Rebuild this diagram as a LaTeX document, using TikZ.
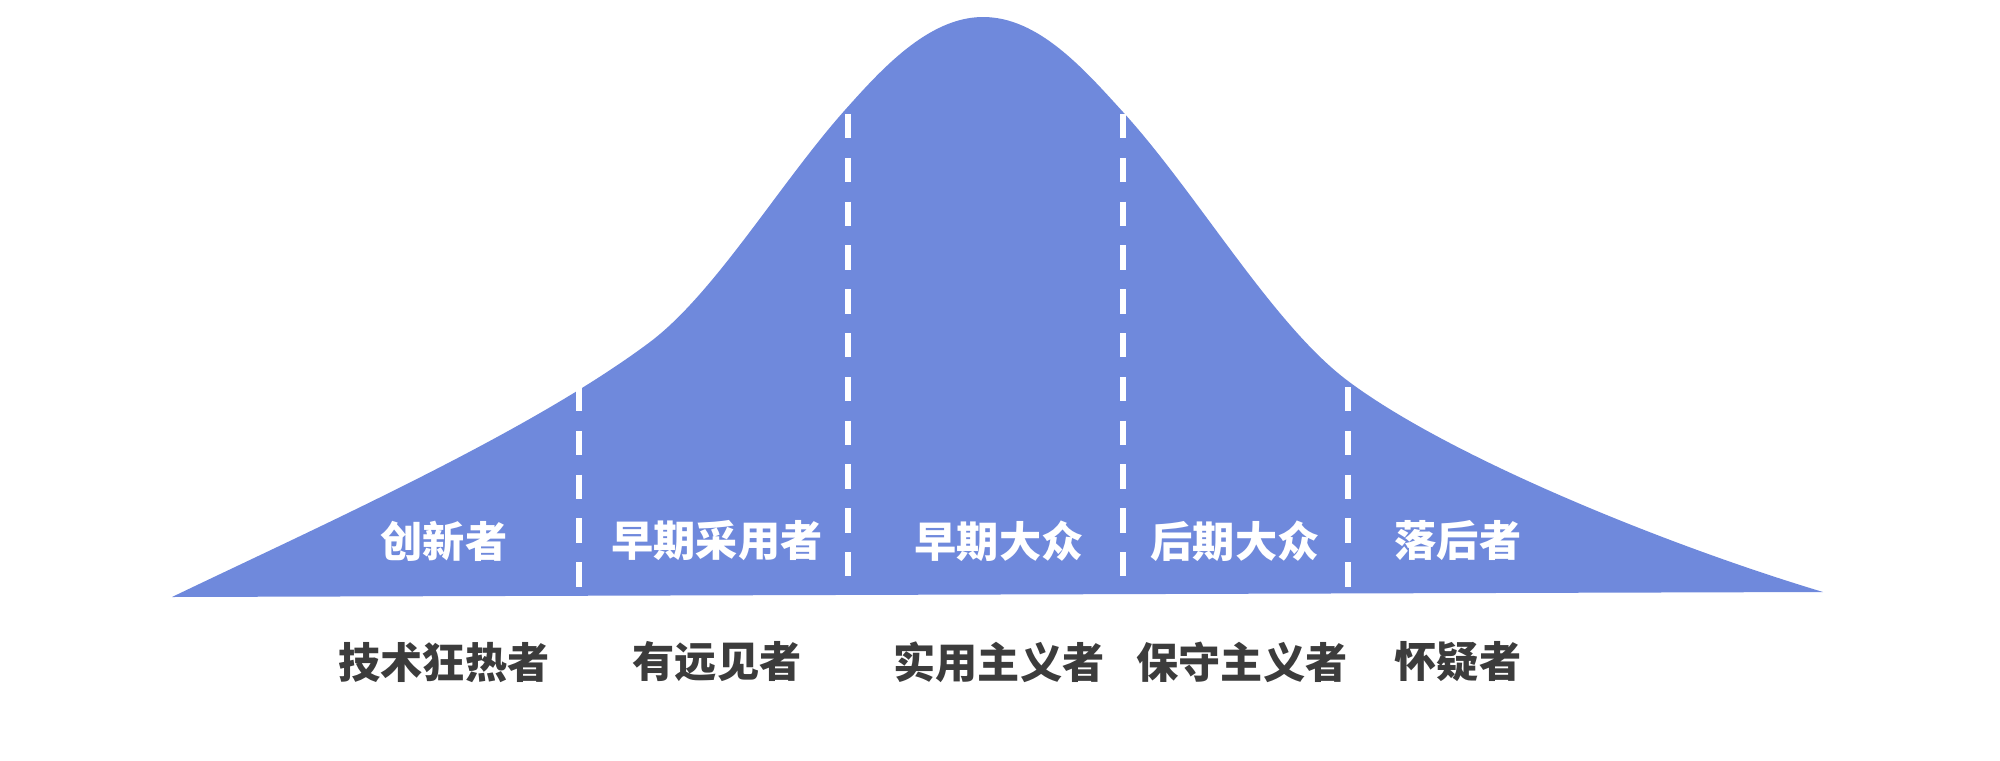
\documentclass[tikz,border=0pt]{standalone}
\usepackage{fontspec}
\newfontfamily\cjk{Noto Sans CJK SC}
\definecolor{bellblue}{HTML}{6F89DC}
\definecolor{roleink}{HTML}{3C3C3C}
\usetikzlibrary{positioning}
\tikzset{
  bell/.style={fill=bellblue},
  divider/.style={draw=white,line width=1.2mm,dash pattern=on 4.86mm off 3.9mm},
  seg/.style={text=white,inner sep=0pt,font=\cjk\bfseries\fontsize{24}{28}\selectfont},
  role/.style={seg,text=roleink},
}
\begin{document}
\begin{tikzpicture}[x=0.2mm,y=-0.2mm]
  \useasboundingbox (0,0) rectangle (2000,760);
  % adoption curve
  \fill[bell] (172,597) .. controls (322,525) and (530,432) .. (650,342)
    .. controls (715,293) and (780,183) .. (845,110)
    .. controls (880,70.8) and (928,17) .. (983,17)
    .. controls (1038,17) and (1083,68) .. (1123,112)
    .. controls (1198,194.5) and (1273,325) .. (1348,381)
    .. controls (1448,456) and (1663,544) .. (1823,592) -- cycle;
  % dividers between the groups
  \coordinate (d1top) at (579,387);  \coordinate (d1bot) at (579,592);
  \coordinate (d2top) at (848,114);  \coordinate (d2bot) at (848,590);
  \coordinate (d3top) at (1123,114); \coordinate (d3bot) at (1123,590);
  \coordinate (d4top) at (1348,387); \coordinate (d4bot) at (1348,592);
  \draw[divider] (d1top) -- (d1bot);
  \draw[divider] (d2top) -- (d2bot);
  \draw[divider] (d3top) -- (d3bot);
  \draw[divider] (d4top) -- (d4bot);
  % group names inside the curve
  \node[seg] (innov) at (444,541) {创新者};
  \node[seg] (early) at (717,541) {早期采用者};
  \node[seg] (earlymaj) at (999,541) {早期大众};
  \node[seg] (latemaj) at (1235,541) {后期大众};
  \node[seg] (lagg) at (1458,541) {落后者};
  % who they are
  \node[role, below=16mm of innov] (techie) {技术狂热者};
  \node[role, below=16mm of early] (vision) {有远见者};
  \node[role, below=16mm of earlymaj] (pragma) {实用主义者};
  \node[role, below=16mm of latemaj, xshift=1.4mm] (conserv) {保守主义者};
  \node[role, below=16mm of lagg] (skeptic) {怀疑者};
\end{tikzpicture}
\end{document}
